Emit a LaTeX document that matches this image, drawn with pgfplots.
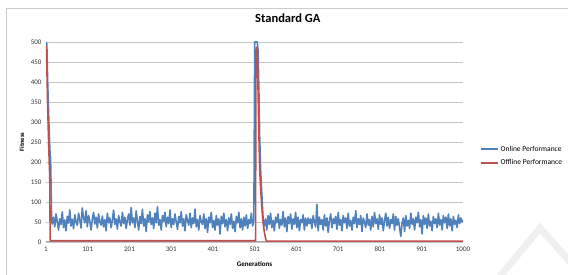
\documentclass[border=0pt]{standalone}
\usepackage{fontspec}
\setmainfont{Carlito}
\usepackage{pgfplots}
\pgfplotsset{compat=1.18}
\definecolor{onl}{HTML}{4F81BD}
\definecolor{offl}{HTML}{C0504D}
\begin{document}
\begin{tikzpicture}[x=1pt,y=1pt]
\path[use as bounding box] (0,0) rectangle (568,275);
\draw[gray!12, line width=7pt] (497,-5) -- (540,47) -- (580,2);
\draw[gray!40, line width=0.8pt] (6,-2) -- (6,267) -- (570,267);
\begin{axis}[
  at={(46pt,33pt)}, anchor=south west,
  scale only axis, width=417pt, height=200pt,
  xmin=1, xmax=1000, ymin=0, ymax=500,
  xtick={1,101,201,301,401,501,601,701,801,901,1000},
  xticklabels={1,101,201,301,401,501,601,701,801,901,1000},
  ytick={0,50,...,500},
  major tick length=0pt,
  ymajorgrids, grid style={gray!45, line width=0.6pt},
  axis line style={draw=none},
  /pgf/number format/assume math mode=true,
  /pgf/number format/1000 sep={},
  ticklabel style={font=\fontsize{7}{8}\selectfont, text=black!80},
  xticklabel style={yshift=-1pt},
  yticklabel style={xshift=-1pt},
  title={Standard GA},
  title style={font=\fontsize{12.5}{14}\selectfont\bfseries, at={(rel axis cs:0.58,1.09)}, anchor=center},
  xlabel={Generations},
  xlabel style={font=\fontsize{7}{8}\selectfont\bfseries, at={(rel axis cs:0.5,-0.11)}, anchor=center},
  ylabel={Fitness},
  ylabel style={font=\fontsize{6.5}{7}\selectfont\bfseries, at={(rel axis cs:-0.058,0.5)}, anchor=center, rotate=0},
  legend style={draw=none, fill=none, at={(rel axis cs:1.04,0.43)}, anchor=west,
    font=\fontsize{7.5}{8}\selectfont, row sep=3pt, inner sep=0pt,
    legend cell align=left},
  legend image code/.code={\draw[#1, line width=1.8pt] (0pt,0pt) -- (17pt,0pt);},
  every axis plot/.append style={line join=round},
]
\draw[gray!75, line width=1.2pt] (axis cs:1,0) -- (axis cs:1000,0);
\addplot[onl, line width=1.6pt] coordinates {
(1,500)(3,495)(5,400)(7,330)(9,265)(11,215)(12,210)(13,150)(14,80)(15,50)
(16,45)(19,62)(22,38)(25,70)(28,52)(31,30)(34,58)(37,44)(40,75)(43,36)(46,55)(49,28)(52,64)(55,47)(58,80)(61,40)(64,57)(67,33)(70,68)(73,50)
(76,42)(79,72)(82,55)(85,35)(88,85)(91,60)(94,48)(97,78)(100,38)(103,66)(106,52)(109,30)(112,58)(115,74)(118,45)(121,62)(124,35)(127,70)(130,50)(133,42)
(136,65)(139,38)(142,56)(145,28)(148,72)(151,48)(154,60)(157,36)(160,54)(163,80)(166,44)(169,58)(172,32)(175,66)(178,50)(181,40)(184,74)(187,46)(190,62)(193,34)
(196,56)(199,70)(202,42)(205,86)(208,48)(211,60)(214,36)(217,78)(220,52)(223,30)(226,64)(229,46)(232,82)(235,40)(238,58)(241,26)(244,68)(247,50)(250,76)(253,44)
(256,60)(259,34)(262,72)(265,48)(268,88)(271,42)(274,56)(277,30)(280,66)(283,52)(286,74)(289,38)(292,62)(295,46)(298,80)(301,36)(304,58)(307,44)(310,70)(313,50)
(316,32)(319,64)(322,48)(325,76)(328,40)(331,58)(334,28)(337,68)(340,54)(343,42)(346,72)(349,36)(352,60)(355,46)(358,82)(361,38)(364,56)(367,30)(370,66)(373,50)
(376,44)(379,70)(382,34)(385,58)(388,24)(391,62)(394,48)(397,74)(400,36)(403,54)(406,30)(409,66)(412,42)(415,58)(418,20)(421,64)(424,46)(427,72)(430,38)(433,56)
(436,28)(439,60)(442,44)(445,70)(448,34)(451,52)(454,26)(457,64)(460,48)(463,74)(466,36)(469,58)(472,30)(475,62)(478,40)(481,68)(484,34)(487,56)(490,46)(493,72)(496,40)
(499,55)(501,500)(507,500)(509,480)(511,380)(513,260)(515,185)(517,140)(519,100)(521,60)(522,45)
(524,40)(527,58)(530,30)(533,66)(536,44)(539,72)(542,36)(545,54)(548,28)(551,62)(554,48)(557,70)(560,34)(563,56)(566,42)(569,76)(572,38)(575,60)(578,26)(581,64)
(584,46)(587,70)(590,32)(593,58)(596,44)(599,74)(602,36)(605,62)(608,28)(611,56)(614,48)(617,68)(620,30)(623,60)(626,40)(629,60)(632,46)(635,58)(638,34)(641,66)
(644,50)(647,38)(650,94)(653,28)(656,62)(659,44)(662,56)(665,30)(668,68)(671,40)(674,60)(677,24)(680,54)(683,70)(686,36)(689,58)(692,46)(695,64)(698,32)(701,74)
(704,42)(707,56)(710,28)(713,66)(716,48)(719,60)(722,34)(725,72)(728,40)(731,54)(734,30)(737,62)(740,46)(743,78)(746,36)(749,58)(752,44)(755,66)(758,26)(761,60)
(764,50)(767,36)(770,70)(773,42)(776,56)(779,30)(782,64)(785,38)(788,74)(791,46)(794,58)(797,32)(800,68)(803,44)(806,60)(809,28)(812,54)(815,72)(818,40)(821,62)
(824,34)(827,56)(830,46)(833,70)(836,30)(839,64)(842,42)(845,58)(848,36)(851,14)(854,48)(857,60)(860,26)(863,66)(866,40)(869,54)(872,34)(875,72)(878,44)(881,58)
(884,30)(887,62)(890,48)(893,74)(896,38)(899,56)(902,20)(905,66)(908,44)(911,60)(914,34)(917,70)(920,40)(923,52)(926,28)(929,64)(932,46)(935,58)(938,36)(941,72)
(944,42)(947,56)(950,30)(953,66)(956,48)(959,62)(962,34)(965,70)(968,40)(971,58)(974,28)(977,64)(980,44)(983,54)(986,36)(989,68)(992,46)(995,60)(998,50)(1000,55)
};
\addlegendentry{Online Performance}
\addplot[offl, line width=1.6pt] coordinates {
(1,490)(3,440)(5,340)(7,260)(9,190)(10,165)(11,5)(12,3)(100,3)(200,3)(300,3)(400,3)(503,3)
(504,480)(505,487)(507,478)(509,380)(511,270)(513,180)(516,120)(520,60)(524,25)(528,5)(530,2)
(600,2)(700,2)(800,2)(900,2)(1000,2)
};
\addlegendentry{Offline Performance}
\end{axis}
\end{tikzpicture}
\end{document}
